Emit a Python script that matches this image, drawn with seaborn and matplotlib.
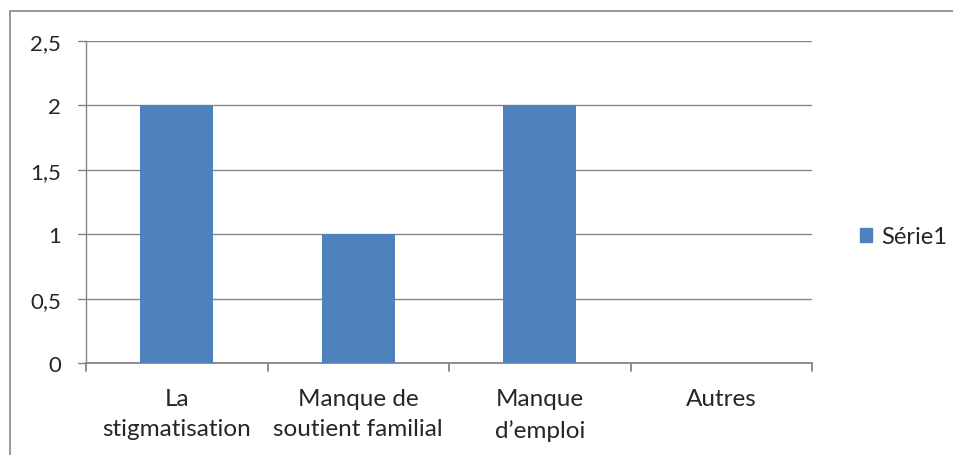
import pandas as pd
import matplotlib.pyplot as plt
import seaborn as sns
from matplotlib.patches import Rectangle, Patch

categories = ["La\nstigmatisation", "Manque de\nsoutient familial", "Manque\nd\u2019emploi", "Autres"]
values = [2, 1, 2, 0]
series_name = "Série1"
y_ticks = [0, 0.5, 1, 1.5, 2, 2.5]
y_labels = ["0", "0,5", "1", "1,5", "2", "2,5"]

sns.set_style("white")
plt.rcParams['font.family'] = ['Lato', 'DejaVu Sans']

df = pd.DataFrame({"cat": categories, "val": values})

fig = plt.figure(figsize=(9.54, 4.56), dpi=100)
ax = fig.add_axes([86 / 954, 1 - 364 / 456, (812 - 86) / 954, (364 - 42) / 456])

sns.barplot(data=df, x="cat", y="val", color="#4F81BD", width=0.4,
            saturation=1, linewidth=0, ax=ax, zorder=3)

grey = "#868686"
ax.set_ylim(0, 2.5)
ax.set_xlim(-0.5, 3.5)
ax.set_yticks(y_ticks)
ax.set_yticklabels(y_labels, fontsize=16)
ax.set_xticks(range(len(categories)))
ax.set_xticklabels(categories, fontsize=17.5, linespacing=1.55)
ax.yaxis.grid(True, color=grey, linewidth=1, zorder=0)
ax.set_xlabel("")
ax.set_ylabel("")
ax.tick_params(axis="x", length=0, pad=18)
ax.tick_params(axis="y", length=0, pad=18)
for s in ["top", "right"]:
    ax.spines[s].set_visible(False)
ax.spines["left"].set_color(grey)
ax.spines["bottom"].set_color(grey)
ax.spines["left"].set_linewidth(1)
ax.spines["bottom"].set_linewidth(1.3)

# tick marks at category boundaries, and small y ticks to the left
for b in [-0.5, 0.5, 1.5, 2.5, 3.5]:
    ax.plot([b, b], [0, -0.025 * 2.5], color=grey, lw=1.3, clip_on=False)
for t in y_ticks:
    ax.plot([-0.5 - 0.045, -0.5], [t, t], color=grey, lw=1, clip_on=False)

fig.legend(handles=[Patch(color="#4F81BD", label=series_name)],
           loc="center left", bbox_to_anchor=(839 / 954, 1 - 238 / 456),
           frameon=False, fontsize=17, handlelength=0.5, handleheight=0.5,
           handletextpad=0.4)

fig.patches.append(Rectangle((10 / 954, -0.1), 1.5, 1 - 12 / 456 + 0.1,
                             transform=fig.transFigure, fill=False,
                             edgecolor=grey, linewidth=1.2))

fig.savefig("out.png", dpi=100)
